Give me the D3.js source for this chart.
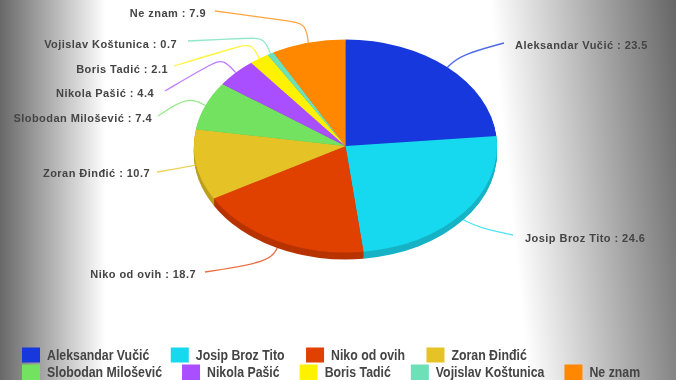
<!DOCTYPE html>
<html>
<head>
<meta charset="utf-8">
<script src="https://cdn.jsdelivr.net/npm/d3@7"></script>
<style>
body { margin: 0; background: #fff; overflow: hidden; }
.pie-label { font-family: "Liberation Sans", Arial, sans-serif; font-size: 11px; font-weight: bold; letter-spacing: 0.45px; fill: #444; }
.legend-label { font-family: "Liberation Sans", Arial, sans-serif; font-size: 15.5px; font-weight: bold; fill: #444; }
</style>
</head>
<body>
<div id="viz"></div>
<script>
const names = ["Aleksandar Vučić", "Josip Broz Tito", "Niko od ovih", "Zoran Đinđić", "Slobodan Milošević", "Nikola Pašić", "Boris Tadić", "Vojislav Koštunica", "Ne znam"]
const values = [23.5, 24.6, 18.7, 10.7, 7.4, 4.4, 2.1, 0.7, 7.9]
const colors = ["#1538dd", "#19d9f0", "#e03f00", "#e5c326", "#72e261", "#a94fff", "#fff200", "#6ee0b8", "#ff8800"]
const legendRows = [4, 5]
const legendGaps = [21.5, 20]

// where each leader line goes after it leaves the pie
const leaderBends = [
    [[460, 55], [504, 43]],
    [[480, 228], [513, 235]],
    [[270, 262], [205, 272]],
    [[175, 169], [157, 172]],
    [[188, 96], [158, 116]],
    [[224, 60], [214, 62], [165, 91]],
    [[252, 44], [240, 46], [174, 66]],
    [[264, 38], [250, 38], [188, 41]],
    [[306, 24], [290, 21], [215, 11]]
]
const labelAnchors = [[515, 49], [525, 242], [196, 278], [150, 177], [152, 122], [154, 97], [168, 73], [177, 48], [206, 17]]

const svgWidth = 676,
svgHeight = 380,
cx = 345.5,
cy = 146,
rx = 151.5,
ry = 106.5,
depth = 7,
legendSqueeze = 0.795

const svg = d3.select("#viz")
    .append("svg")
    .attr("width", svgWidth)
    .attr("height", svgHeight)
    .style("display", "block")

const defs = svg.append("defs")

const addFade = (id, x1, y1, x2, y2, edge) => {
    const g = defs.append("linearGradient")
    .attr("id", id)
    .attr("gradientUnits", "userSpaceOnUse")
    .attr("x1", x1).attr("y1", y1)
    .attr("x2", x2).attr("y2", y2)
    g.append("stop").attr("offset", 0).attr("stop-color", edge).attr("stop-opacity", 1)
    g.append("stop").attr("offset", 1).attr("stop-color", edge).attr("stop-opacity", 0)
}
// left fade is upright, the right one leans a little
addFade("fade-left", 0, 0, 106, 0, "#686868")
addFade("fade-right", 676, -19, 490, 0, "#646464")

// the reference is a slightly soft, resampled image
const soft = defs.append("filter").attr("id", "soft")
soft.append("feGaussianBlur").attr("stdDeviation", 0.35)

svg.selectAll("rect.bg")
    .data(["fade-left", "fade-right"])
    .enter()
    .append("rect")
    .attr("class", "bg")
    .attr("width", svgWidth)
    .attr("height", svgHeight)
    .attr("fill", d => `url(#${d})`)

const pie = d3.pie().sort(null).value(d => d)
const slices = pie(values)
const arc = d3.arc().innerRadius(0).outerRadius(rx)
const yScale = ry / rx

const chart = svg.append("g").attr("filter", "url(#soft)")

// side of the pie: darker copies stacked under the top face
d3.range(depth, 0, -1).forEach(dy => {
    chart.append("g")
    .attr("transform", `translate(${cx},${cy + dy}) scale(1,${yScale})`)
    .selectAll("path")
    .data(slices)
    .enter()
    .append("path")
    .attr("fill", (d, i) => d3.color(colors[i]).darker(0.55))
    .attr("d", arc)
})

chart.append("g")
    .attr("transform", `translate(${cx},${cy}) scale(1,${yScale})`)
    .selectAll("path")
    .data(slices)
    .enter()
    .append("path")
    .attr("fill", (d, i) => colors[i])
    .attr("d", arc)

const leader = d3.line().curve(d3.curveBasis)
const edgePoint = (d, i) => {
    const a = (d.startAngle + d.endAngle) / 2
    // labels on the lower half start from the side of the pie
    const drop = Math.cos(a) < -0.3 ? depth : 0
    return [cx + rx * Math.sin(a), cy - ry * Math.cos(a) + drop]
}

chart.append("g")
    .selectAll("path")
    .data(slices)
    .enter()
    .append("path")
    .attr("fill", "none")
    .attr("stroke", (d, i) => colors[i])
    .attr("stroke-opacity", 0.75)
    .attr("stroke-width", 1.3)
    .attr("d", (d, i) => leader([edgePoint(d, i), ...leaderBends[i]]))

chart.append("g")
    .selectAll("text")
    .data(slices)
    .enter()
    .append("text")
    .attr("class", "pie-label")
    .attr("x", (d, i) => labelAnchors[i][0])
    .attr("y", (d, i) => labelAnchors[i][1])
    .attr("text-anchor", (d, i) => i < 2 ? "start" : "end")
    .text((d, i) => `${names[i]} : ${values[i]}`)

// legend flows along each row, the way the chart library lays it out
const legend = svg.append("g").attr("filter", "url(#soft)")
let start = 0
legendRows.forEach((count, row) => {
    let x = 22
    const rowY = 347.5 + row * 17
    names.slice(start, start + count).forEach((name, k) => {
        const item = legend.append("g").attr("transform", `translate(${x},${rowY})`)
        item.append("rect")
            .attr("width", 18)
            .attr("height", row ? 15.5 : 15)
            .attr("fill", colors[start + k])
        const label = item.append("text")
            .attr("class", "legend-label")
            .attr("transform", `translate(25,12.5) scale(${legendSqueeze},1)`)
            .text(name)
        x += 25 + label.node().getComputedTextLength() * legendSqueeze + legendGaps[row]
    })
    start += count
})
</script>
</body>
</html>
